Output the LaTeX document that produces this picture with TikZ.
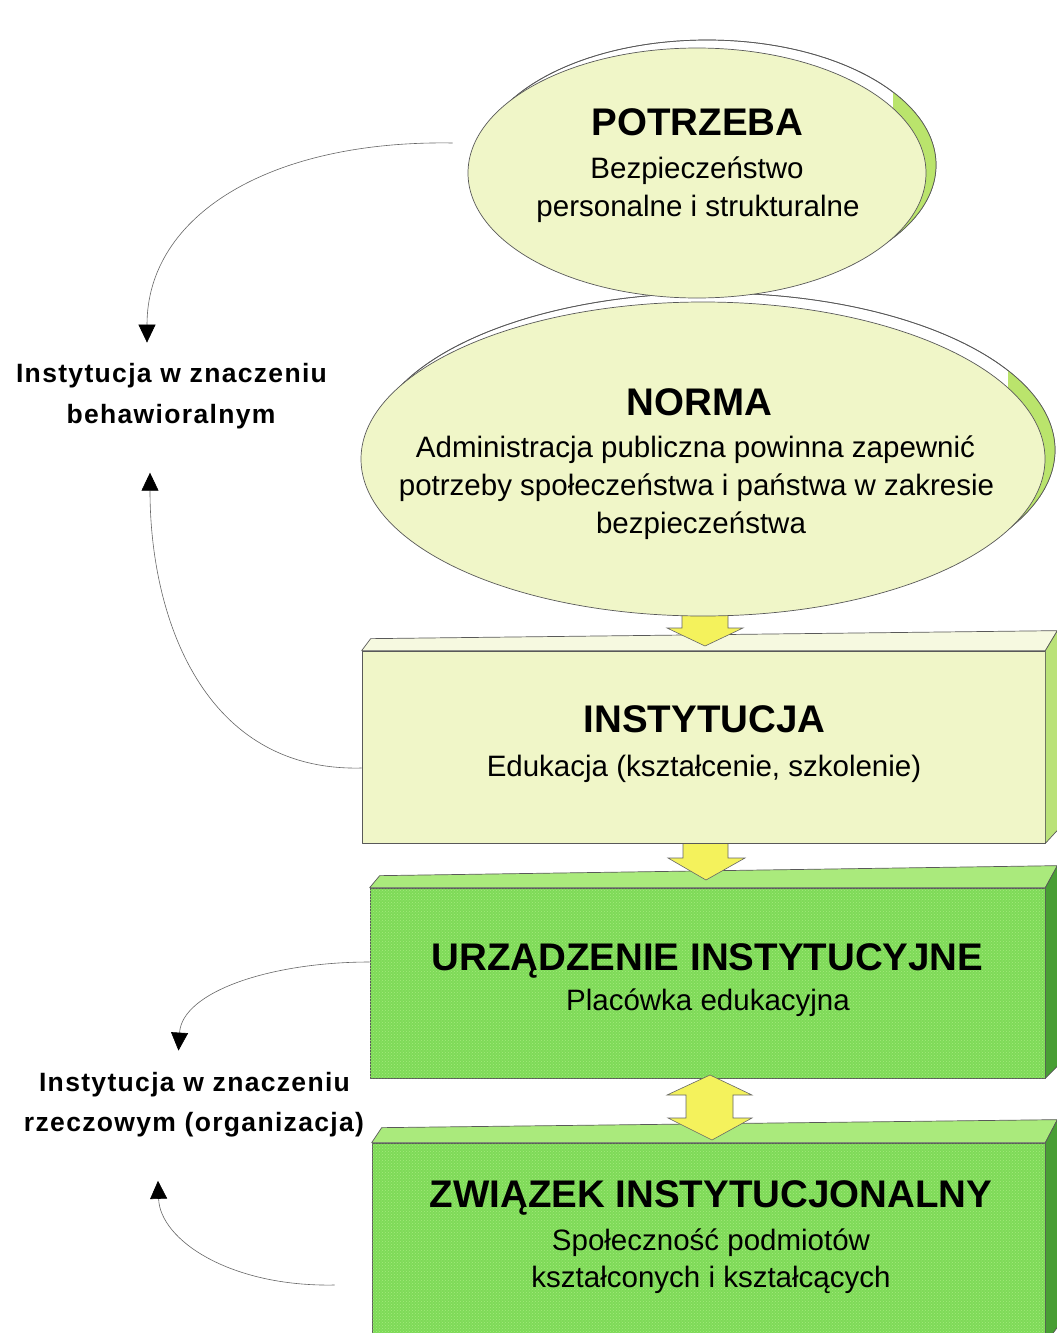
\documentclass[tikz,border=0pt]{standalone}
\usepackage{fontspec}
\setmainfont{Liberation Sans}
\newfontfamily\lblfont[LetterSpace=5]{Liberation Sans}
\usetikzlibrary{shapes.geometric,arrows.meta,calc,patterns}

\definecolor{pale}{RGB}{240,246,200}
\definecolor{paletop}{RGB}{246,249,224}
\definecolor{paleside}{RGB}{186,226,120}
\definecolor{crescent}{RGB}{186,228,108}
\definecolor{gfront}{RGB}{126,218,88}
\definecolor{gtop}{RGB}{170,234,124}
\definecolor{gside}{RGB}{72,158,52}
\definecolor{gdots}{RGB}{164,234,124}
\definecolor{arrowyellow}{RGB}{244,242,92}

\begin{document}
\begin{tikzpicture}[x=1pt,y=-1pt,
  outline/.style={draw=black!65,line width=0.7pt,line join=round},
  boxface/.style={rectangle,inner sep=0pt,outline},
  oval/.style={ellipse,inner sep=0pt,outline},
  title/.style={anchor=base,inner sep=0pt,font=\fontsize{38.5}{40}\selectfont\bfseries},
  body/.style={anchor=base,inner sep=0pt,font=\fontsize{29.5}{36}\selectfont},
  side/.style={anchor=base,inner sep=0pt,font=\lblfont\bfseries\fontsize{26.5}{41}\selectfont},
  link/.style={draw=black!60,line width=0.6pt,-{Triangle[length=18pt,width=17pt,color=black]}},
  blockarrow/.style={fill=arrowyellow,draw=black!60,line width=0.6pt,line join=miter},
  texture/.style={postaction={pattern=crosshatch dots,pattern color=gdots}}]

\fill[white] (0,0) rectangle (1057,1333);
\useasboundingbox (0,0) rectangle (1057,1333);

% ---- ZWIĄZEK INSTYTUCJONALNY (bottom green block) ----
\node[boxface,fill=gfront,texture,minimum width=673pt,minimum height=200pt] (zw) at (708.5,1243) {};
\filldraw[outline,fill=gtop] (zw.north west) -- ($(zw.north west)+(10,-15)$) -- ($(zw.north east)+(12,-23)$) -- (zw.north east) -- cycle;
\filldraw[outline,fill=gside] (zw.north east) -- ($(zw.north east)+(12,-23)$) -- ($(zw.south east)+(12,-16)$) -- (zw.south east) -- cycle;

% ---- URZĄDZENIE INSTYTUCYJNE (green block) ----
\node[boxface,fill=gfront,texture,minimum width=675pt,minimum height=190pt] (urz) at (707.5,983) {};
\filldraw[outline,fill=gtop] (urz.north west) -- ($(urz.north west)+(10,-12)$) -- ($(urz.north east)+(12,-22)$) -- (urz.north east) -- cycle;
\filldraw[outline,fill=gside] (urz.north east) -- ($(urz.north east)+(12,-22)$) -- ($(urz.south east)+(12,-12)$) -- (urz.south east) -- cycle;

% double block arrow between the two green blocks
\filldraw[blockarrow] (710,1075) -- (752,1095) -- (733,1095) -- (733,1118) -- (752,1118) -- (712,1140)
  -- (668,1118) -- (686,1118) -- (686,1095) -- (667,1095) -- cycle;

% block arrow INSTYTUCJA -> URZĄDZENIE
\filldraw[blockarrow] (683,835) -- (728,835) -- (728,858) -- (745,858) -- (706,880) -- (668,858) -- (683,858) -- cycle;

% ---- INSTYTUCJA (pale block) ----
\node[boxface,fill=pale,minimum width=683pt,minimum height=192pt] (inst) at (703.5,747) {};
\filldraw[outline,fill=paletop] (inst.north west) -- ($(inst.north west)+(9,-12)$) -- ($(inst.north east)+(12,-20)$) -- (inst.north east) -- cycle;
\filldraw[outline,fill=paleside] (inst.north east) -- ($(inst.north east)+(12,-20)$) -- ($(inst.south east)+(12,-13)$) -- (inst.south east) -- cycle;

% block arrow NORMA -> INSTYTUCJA
\filldraw[blockarrow] (682,605) -- (728,605) -- (728,628) -- (743,628) -- (705,646) -- (667,628) -- (682,628) -- cycle;

% ---- NORMA (extruded ellipse) ----
\node[oval,fill=white,minimum width=684pt,minimum height=314pt] (normaback) at (713,450) {};
\begin{scope}
  \clip (713,450) ellipse [x radius=342pt, y radius=157pt];
  \fill[crescent] (1008,250) rectangle (1057,640);
\end{scope}
\draw[outline] (713,450) ellipse [x radius=342pt, y radius=157pt];
\node[oval,fill=pale,minimum width=684pt,minimum height=314pt] (norma) at (703,459) {};

% ---- POTRZEBA (extruded ellipse) ----
\node[oval,fill=white,minimum width=458pt,minimum height=250pt] (potrzebaback) at (707,165) {};
\begin{scope}
  \clip (707,165) ellipse [x radius=229pt, y radius=125pt];
  \fill[crescent] (893,0) rectangle (1057,320);
\end{scope}
\draw[outline] (707,165) ellipse [x radius=229pt, y radius=125pt];
\node[oval,fill=pale,minimum width=458pt,minimum height=250pt] (potrzeba) at (697,173) {};

% ---- texts inside the shapes ----
\node[title] (t-potrzeba) at (697.5,135) {POTRZEBA};
\node[body] (b-potrzeba1) at (697,178) {Bezpieczeństwo};
\node[body] (b-potrzeba2) at (698,216) {personalne i strukturalne};

\node[title] (t-norma) at (699.5,415) {NORMA};
\node[body] (b-norma1) at (695.5,457) {Administracja publiczna powinna zapewnić};
\node[body] (b-norma2) at (696.5,495) {potrzeby społeczeństwa i państwa w zakresie};
\node[body] (b-norma3) at (701,533) {bezpieczeństwa};

\node[title] (t-inst) at (704.5,732) {INSTYTUCJA};
\node[body] (b-inst) at (704,776) {Edukacja (kształcenie, szkolenie)};

\node[title] (t-urz) at (707.5,970) {URZĄDZENIE INSTYTUCYJNE};
\node[body] (b-urz) at (708,1010) {Placówka edukacyjna};

\node[title] (t-zw) at (711,1207) {ZWIĄZEK INSTYTUCJONALNY};
\node[body] (b-zw1) at (711,1250) {Społeczność podmiotów};
\node[body] (b-zw2) at (711,1287) {kształconych i kształcących};

% ---- side labels ----
\node[side] (lab1a) at (171.5,382) {Instytucja w znaczeniu};
\node[side] (lab1b) at (171,423) {behawioralnym};
\node[side] (lab2a) at (194.5,1091) {Instytucja w znaczeniu};
\node[side] (lab2b) at (194,1131) {rzeczowym (organizacja)};

% ---- curved connectors ----
\coordinate (s1) at ($(potrzeba.west)+(-15,-30)$);
\coordinate (e1) at ($(lab1a.north)+(-24.5,-20)$);
\coordinate (s2) at ($(inst.west)+(0,21)$);
\coordinate (e2) at ($(lab1b.south)+(-21,44)$);
\coordinate (s3) at ($(urz.west)+(0,-21)$);
\coordinate (e3) at ($(lab2a.north)+(-16,-21)$);
\coordinate (s4) at ($(zw.west)+(-37,42)$);
\coordinate (e4) at ($(lab2b.south)+(-36,44)$);

\draw[link] (s1) .. controls (270,140) and (147,215) .. (e1);
\draw[link] (s2) .. controls (205,772) and (150,620) .. (e2);
\draw[link] (s3) .. controls (270,962) and (182,992) .. (e3);
\draw[link] (s4) .. controls (230,1287) and (160,1240) .. (e4);

\end{tikzpicture}
\end{document}
